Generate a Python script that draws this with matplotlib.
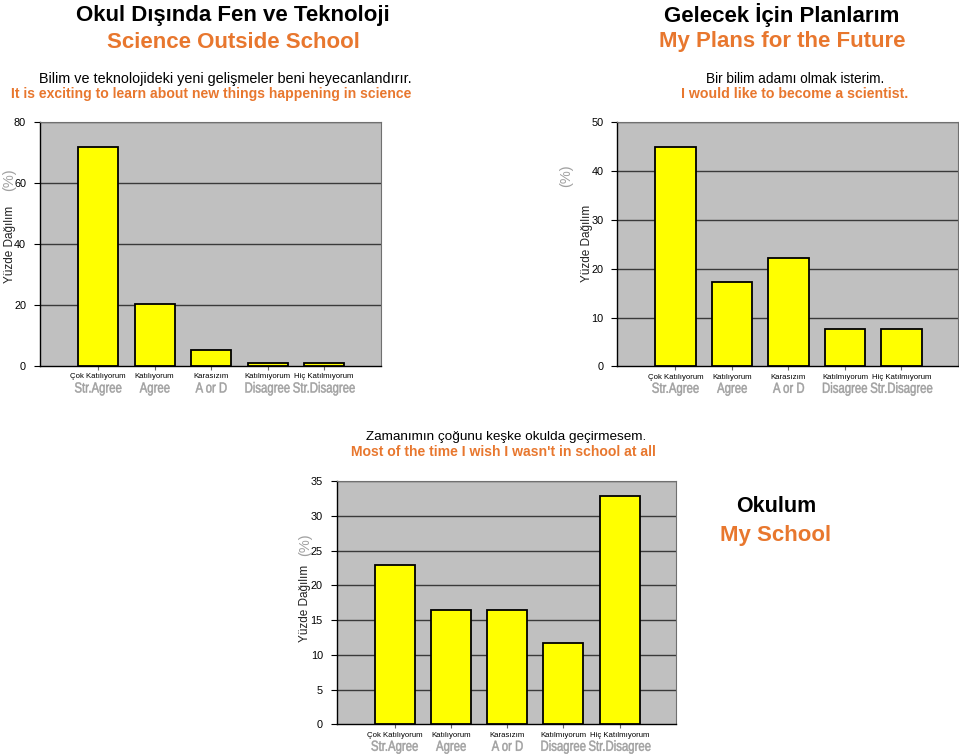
import matplotlib.pyplot as plt
from matplotlib.font_manager import FontProperties
from matplotlib.patches import PathPatch
from matplotlib.textpath import TextPath
from matplotlib.transforms import Affine2D

plt.rcParams["font.family"] = ["Liberation Sans", "DejaVu Sans"]

tr_labels = ["Çok Katılıyorum", "Katılıyorum", "Karasızım", "Katılmıyorum", "Hiç Katılmıyorum"]
en_labels = ["Str.Agree", "Agree", "A or D", "Disagree", "Str.Disagree"]

science_values = [71.7, 20.2, 5.1, 1.1, 1.1]
scientist_values = [45.0, 17.2, 22.2, 7.6, 7.6]
school_values = [22.9, 16.4, 16.4, 11.7, 32.8]

ORANGE = "#E8772E"
GRAY_TXT = "#A0A0A0"
W, H = 959, 754
DPI = 100

fig = plt.figure(figsize=(W / DPI, H / DPI), dpi=DPI)
narrow_font = FontProperties(family="Liberation Sans", size=10.5)


def fx(px):
    return px / W


def fy(py):
    return 1 - py / H


def narrow_label(ax, xval, text, below_px):
    # condensed grey label (Arial Narrow look), baseline below_px under the x axis
    path = TextPath((0, 0), text, prop=narrow_font)
    bb = path.get_extents()
    ax_x, ax_y = ax.transData.transform((xval, ax.get_ylim()[0]))
    tr = (Affine2D().translate(-(bb.x0 + bb.x1) / 2, 0)
          .scale(0.78 * DPI / 72, DPI / 72)
          .translate(ax_x, ax_y - below_px))
    patch = PathPatch(path, facecolor=GRAY_TXT, edgecolor=GRAY_TXT, linewidth=0.35)
    patch.set_transform(tr)
    fig.add_artist(patch)


def bar_panel(rect, values, ymax, step):
    ax = fig.add_axes(rect)
    ax.set_facecolor("#C0C0C0")
    x = list(range(len(values)))
    ax.bar(x, values, width=0.71, color="#FFFF00", edgecolor="black", linewidth=1.3, zorder=3)
    ax.set_xlim(-1.03, 5.0)
    ax.set_ylim(0, ymax)
    ax.set_yticks(range(0, ymax + 1, step))
    for t in range(step, ymax + 1, step):
        ax.axhline(t, color="#3a3a3a", linewidth=1.0, zorder=1)
    ax.tick_params(axis="y", labelsize=7.8, length=4, width=0.8, pad=6)
    ax.set_xticks(x)
    ax.set_xticklabels([])
    ax.tick_params(axis="x", length=3, width=0.8, color="#666666")
    for side in ("top", "right"):
        ax.spines[side].set_color("#707070")
    for side in ("left", "bottom"):
        ax.spines[side].set_color("black")
        ax.spines[side].set_linewidth(1.0)
    for i in x:
        ax.annotate(tr_labels[i], (i, 0), xycoords=("data", "axes fraction"), xytext=(0, -7.9),
                    textcoords="offset points", ha="center", va="center", fontsize=5.6)
        narrow_label(ax, i, en_labels[i], 26.5)
    return ax


bar_panel([fx(40), fy(366), fx(340.5), 244 / H], science_values, 80, 20)
bar_panel([fx(617.3), fy(366.3), fx(340.7), 244 / H], scientist_values, 50, 10)
bar_panel([fx(336.7), fy(724.3), fx(339.3), 243.3 / H], school_values, 35, 5)


def ylab(x_pct, y_pct, x_name, y_name):
    fig.text(fx(x_pct), fy(y_pct), "(%)", rotation=90, ha="center", va="center",
             fontsize=10.5, color=GRAY_TXT)
    fig.text(fx(x_name), fy(y_name), "Yüzde Dağılım", rotation=90, ha="center", va="center",
             fontsize=8.5, color="#222222")


ylab(9, 180, 10, 244)
ylab(566, 176, 587, 243)
ylab(305, 545, 305, 603)

# titles
fig.text(fx(233), fy(15), "Okul Dışında Fen ve Teknoloji", ha="center", va="center",
         fontsize=16, weight="bold")
fig.text(fx(233), fy(42), "Science Outside School", ha="center", va="center",
         fontsize=16, color=ORANGE, weight="bold")
fig.text(fx(225), fy(79), "Bilim ve teknolojideki yeni gelişmeler beni heyecanlandırır.",
         ha="center", va="center", fontsize=10.4)
fig.text(fx(211), fy(94), "It is exciting to learn about new things happening in science",
         ha="center", va="center", fontsize=10.1, color=ORANGE, weight="bold")

fig.text(fx(782), fy(15), "Gelecek İçin Planlarım", ha="center", va="center",
         fontsize=16, weight="bold")
fig.text(fx(782), fy(42), "My Plans for the Future", ha="center", va="center",
         fontsize=16, color=ORANGE, weight="bold")
fig.text(fx(795), fy(79), "Bir bilim adamı olmak isterim.", ha="center", va="center",
         fontsize=9.8)
fig.text(fx(795), fy(94), "I would like to become a scientist.", ha="center", va="center",
         fontsize=10.2, color=ORANGE, weight="bold")

fig.text(fx(506), fy(437), "Zamanımın çoğunu keşke okulda geçirmesem.", ha="center", va="center",
         fontsize=9.7)
fig.text(fx(503), fy(452), "Most of the time I wish I wasn't in school at all", ha="center",
         va="center", fontsize=10.1, color=ORANGE, weight="bold")

fig.text(fx(776), fy(507), "Okulum", ha="center", va="center", fontsize=15.5, weight="bold")
fig.text(fx(776), fy(535), "My School", ha="center", va="center", fontsize=16,
         color=ORANGE, weight="bold")

fig.savefig("out.png", dpi=DPI)
